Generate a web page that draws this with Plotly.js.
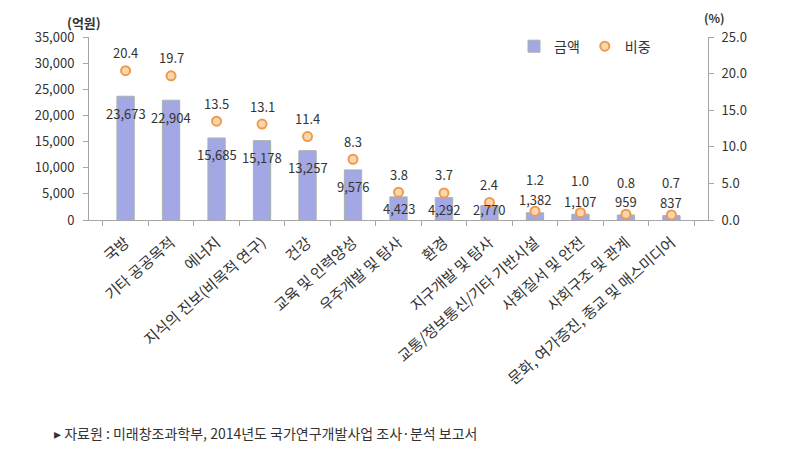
<!DOCTYPE html>
<html>
<head>
<meta charset="utf-8">
<script src="https://cdn.plot.ly/plotly-3.0.1.min.js"></script>
<style>html,body{margin:0;padding:0;background:#fff;}#chart{width:801px;height:458px;}</style>
</head>
<body>
<div id="chart"></div>
<script>
const categories = ['국방','기타 공공목적','에너지','지식의 진보(비목적 연구)','건강','교육 및 인력양성','우주개발 및 탐사','환경','지구개발 및 탐사','교통/정보통신/기타 기반시설','사회질서 및 안전','사회구조 및 관계','문화, 여가증진, 종교 및 매스미디어'];
const amounts = [23673, 22904, 15685, 15178, 13257, 9576, 4423, 4292, 2770, 1382, 1107, 959, 837];
const shares = [20.4, 19.7, 13.5, 13.1, 11.4, 8.3, 3.8, 3.7, 2.4, 1.2, 1.0, 0.8, 0.7];
const yTicks = [0, 5000, 10000, 15000, 20000, 25000, 30000, 35000];
const y2Ticks = [0, 5, 10, 15, 20, 25];

const FONT = '"Noto Sans CJK KR", "Noto Sans", sans-serif';
const TXT = '#333333';
const M = {l: 89, r: 93, t: 37, b: 238};
const plotW = 801 - M.l - M.r;
const plotH = 458 - M.t - M.b;
const yMax = 35000, y2Max = 25;

const fmt = v => v.toLocaleString('en-US');

const annotations = [];
amounts.forEach((v, i) => {
  const top = plotH * (1 - v / yMax);
  const labelPix = top < 172 ? Math.min(top + 17, 172) : top - 13;
  const shift = -(labelPix - top);
  annotations.push({x: categories[i], y: v, xref: 'x', yref: 'y', text: fmt(v), showarrow: false,
    yshift: shift, font: {family: FONT, size: 13, color: TXT}});
  const pctShift = shift > 0 ? 32 : 18;
  annotations.push({x: categories[i], y: shares[i], xref: 'x', yref: 'y2', text: shares[i].toFixed(1), showarrow: false,
    yshift: pctShift, font: {family: FONT, size: 13, color: TXT}});
});
annotations.push({xref: 'paper', yref: 'paper', x: (84 - M.l) / plotW, y: 1.0, yshift: 15, xanchor: 'center', yanchor: 'middle',
  text: '<b>(억원)</b>', showarrow: false, font: {family: FONT, size: 13, color: TXT}});
annotations.push({xref: 'paper', yref: 'paper', x: (714 - M.l) / plotW, y: 1.0, yshift: 20, xanchor: 'center', yanchor: 'middle',
  text: '<b>(%)</b>', showarrow: false, font: {family: FONT, size: 12, color: TXT}});
annotations.push({xref: 'paper', yref: 'paper', x: (52 - M.l) / plotW, y: 0, yshift: -213, xanchor: 'left', yanchor: 'middle',
  text: '▸ 자료원 : 미래창조과학부, 2014년도 국가연구개발사업 조사·분석 보고서', showarrow: false, font: {family: FONT, size: 14, color: TXT}});

const data = [
  {type: 'bar', name: '금액', x: categories, y: amounts, width: 0.38,
   marker: {color: '#a3a8e4', line: {color: '#a6b3ab', width: 1}}, yaxis: 'y', hoverinfo: 'skip'},
  {type: 'scatter', mode: 'markers', name: '비중', x: categories, y: shares, yaxis: 'y2',
   marker: {size: 9, color: '#fcd6ad', line: {color: '#ef9a4c', width: 2}}, hoverinfo: 'skip'}
];

const axisLine = '#a6a6a6';
const layout = {
  width: 801, height: 458,
  margin: M,
  paper_bgcolor: '#fff', plot_bgcolor: '#fff',
  font: {family: FONT, color: TXT, size: 13},
  showlegend: true,
  legend: {orientation: 'h', x: (514 - M.l) / plotW, y: 1.035, xanchor: 'left', yanchor: 'top', itemwidth: 30,
    font: {family: FONT, size: 14, color: TXT}, bgcolor: 'rgba(0,0,0,0)', tracegroupgap: 0},
  xaxis: {type: 'category', tickangle: -41, showline: true, linecolor: axisLine, ticks: 'outside', tickson: 'boundaries',
    ticklen: 5, tickcolor: axisLine, showgrid: false, ticklabelstandoff: 7,
    tickfont: {family: FONT, size: 15, color: TXT}, automargin: false},
  yaxis: {range: [0, yMax], tickvals: yTicks, ticktext: yTicks.map(fmt), showline: true, linecolor: axisLine, ticks: 'outside',
    ticklen: 5, tickcolor: axisLine, showgrid: false, zeroline: false, ticklabelstandoff: 6,
    tickfont: {family: FONT, size: 13, color: TXT}, automargin: false},
  yaxis2: {range: [0, y2Max], tickvals: y2Ticks, ticktext: y2Ticks.map(v => v.toFixed(1)), overlaying: 'y', side: 'right',
    showline: true, linecolor: axisLine, ticks: 'outside', ticklen: 5, tickcolor: axisLine, showgrid: false, zeroline: false,
    ticklabelstandoff: 5, tickfont: {family: FONT, size: 13, color: TXT}, automargin: false},
  annotations: annotations
};

Plotly.newPlot('chart', data, layout, {staticPlot: true, displayModeBar: false});
</script>
</body>
</html>
